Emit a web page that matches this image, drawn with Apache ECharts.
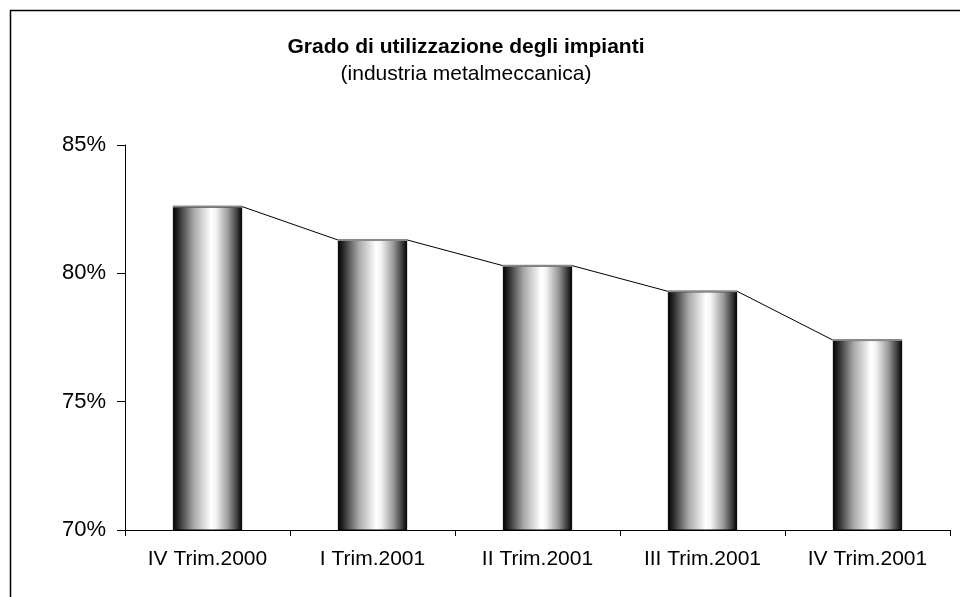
<!DOCTYPE html>
<html>
<head>
<meta charset="utf-8">
<script src="https://cdn.jsdelivr.net/npm/echarts@6/dist/echarts.min.js"></script>
<style>html,body{margin:0;padding:0;background:#fff}#c{width:960px;height:597px}</style>
</head>
<body>
<div id="c"></div>
<script>
var categories = ['IV Trim.2000', 'I Trim.2001', 'II Trim.2001', 'III Trim.2001', 'IV Trim.2001'];
var values = [82.6, 81.3, 80.3, 79.3, 77.4];
var yTicks = [70, 75, 80, 85];
var titleText = 'Grado di utilizzazione degli impianti';
var subtitleText = '(industria metalmeccanica)';

var BAR_RATIO = 0.42;
var FONT = '"Liberation Sans", Arial, sans-serif';

var chart = echarts.init(document.getElementById('c'));
chart.setOption({
  animation: false,
  backgroundColor: '#fff',
  graphic: [{
    type: 'rect',
    shape: { x: 10.5, y: 10.5, width: 1000, height: 1000 },
    style: { fill: 'none', stroke: '#000', lineWidth: 1.5 },
    z: 0
  }, {
    type: 'text',
    x: 466, y: 47,
    style: { text: titleText, fill: '#000', font: 'bold 21px ' + FONT, textAlign: 'center', textVerticalAlign: 'middle' }
  }, {
    type: 'text',
    x: 466, y: 74,
    style: { text: subtitleText, fill: '#000', font: '21px ' + FONT, textAlign: 'center', textVerticalAlign: 'middle' }
  }],
  grid: { left: 125, right: 10, top: 145, bottom: 67, containLabel: false },
  xAxis: {
    type: 'category',
    data: categories,
    axisLine: { lineStyle: { color: '#000', width: 1 } },
    axisTick: { show: true, length: 6, lineStyle: { color: '#000' } },
    axisLabel: { color: '#000', fontFamily: FONT, fontSize: 21, margin: 19 }
  },
  yAxis: {
    type: 'value',
    min: yTicks[0],
    max: yTicks[yTicks.length - 1],
    interval: 5,
    axisLine: { show: true, lineStyle: { color: '#000', width: 1 } },
    axisTick: { show: true, length: 8, lineStyle: { color: '#000' } },
    splitLine: { show: false },
    axisLabel: { color: '#000', fontFamily: FONT, fontSize: 22, margin: 19, formatter: '{value}%' }
  },
  series: [{
    type: 'bar',
    data: values,
    barWidth: (BAR_RATIO * 100) + '%',
    itemStyle: {
      borderColor: '#000',
      borderWidth: 1,
      color: {
        type: 'linear', x: 0, y: 0, x2: 1, y2: 0,
        colorStops: [
          { offset: 0, color: '#000' },
          { offset: 0.08, color: '#2a2a2a' },
          { offset: 0.3, color: '#a8a8a8' },
          { offset: 0.55, color: '#ffffff' },
          { offset: 0.62, color: '#f4f4f4' },
          { offset: 0.8, color: '#9a9a9a' },
          { offset: 0.93, color: '#3a3a3a' },
          { offset: 1, color: '#000' }
        ]
      }
    },
    z: 2
  }, {
    type: 'custom',
    data: values.map(function (v, i) { return [i, v]; }),
    z: 3,
    renderItem: function (params, api) {
      var i = api.value(0);
      var v = api.value(1);
      var p = api.coord([i, v]);
      var half = api.size([1, 0])[0] * BAR_RATIO / 2;
      var children = [{
        type: 'line',
        shape: { x1: p[0] - half, y1: p[1], x2: p[0] + half, y2: p[1] },
        style: { stroke: '#8a8a8a', lineWidth: 2 }
      }];
      if (i < values.length - 1) {
        var q = api.coord([i + 1, values[i + 1]]);
        children.push({
          type: 'line',
          shape: { x1: p[0] + half, y1: p[1], x2: q[0] - half, y2: q[1] },
          style: { stroke: '#000', lineWidth: 1 }
        });
      }
      return { type: 'group', children: children };
    }
  }]
});
</script>
</body>
</html>
